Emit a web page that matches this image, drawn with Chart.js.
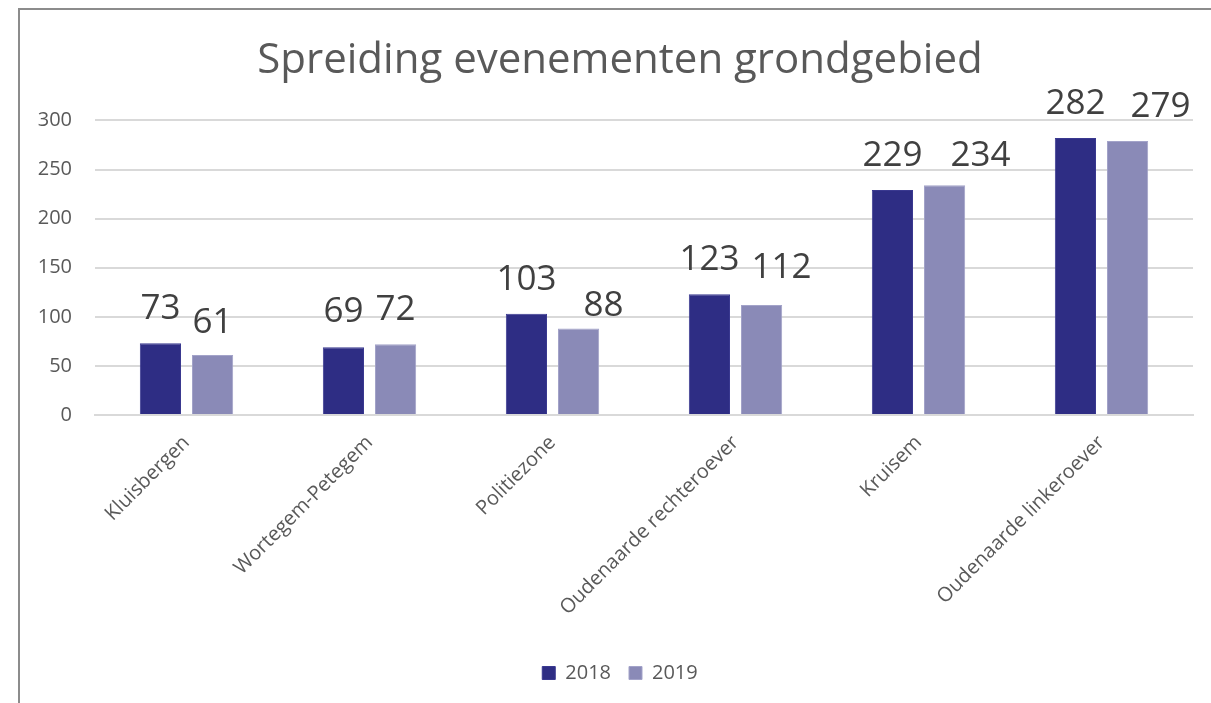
<!DOCTYPE html>
<html>
<head>
<meta charset="utf-8">
<title>Spreiding evenementen grondgebied</title>
<script src="https://cdn.jsdelivr.net/npm/chart.js@4/dist/chart.umd.min.js"></script>
<style>
    html, body { margin: 0; padding: 0; background: #fff; overflow: hidden; }
    #wrap { position: relative; width: 1211px; height: 703px; overflow: hidden; }
    #frame {
        position: absolute; left: 18px; top: 8px; right: -10px; bottom: -10px;
        border-left: 2px solid #8c8c8c; border-top: 2px solid #8c8c8c;
        pointer-events: none;
    }
</style>
</head>
<body>
<div id="wrap">
    <canvas id="spreiding-chart" width="1220" height="703"></canvas>
    <div id="frame"></div>
</div>
<script>
// Evenementen per deelgebied
const categories = ['Kluisbergen', 'Wortegem-Petegem', 'Politiezone', 'Oudenaarde rechteroever', 'Kruisem', 'Oudenaarde linkeroever'];
const values2018 = [73, 69, 103, 123, 229, 282];
const values2019 = [61, 72, 88, 112, 234, 279];
const yTicks = [0, 50, 100, 150, 200, 250, 300];

// Handmatig verschoven waardelabels (dx, dy in px) per reeks
const labelNudge2018 = [[0, 0], [0, -1], [0, 0], [0, 0], [0, 0], [0, 0]];
const labelNudge2019 = [[0, 2], [0, 0], [25, 11], [20, -3], [36, 5], [33, 0]];

const colors = {
    dark: '#2e2d84',
    light: '#8a8ab7',
    text: '#595959',
    label: '#404040',
    grid: '#d9d9d9'
};

const FONT = "'Open Sans', 'Noto Sans', sans-serif";

// Waardelabels boven de staven
const valueLabels = {
    id: 'valueLabels',
    afterDatasetsDraw(chart) {
        const ctx = chart.ctx;
        ctx.save();
        ctx.font = `35px ${FONT}`;
        ctx.fillStyle = colors.label;
        ctx.textAlign = 'center';
        ctx.textBaseline = 'alphabetic';
        chart.data.datasets.forEach((ds, di) => {
            const meta = chart.getDatasetMeta(di);
            meta.data.forEach((bar, i) => {
                const nudge = ds.nudge[i];
                ctx.fillText(String(ds.data[i]), bar.x + nudge[0], bar.y - 24 + nudge[1]);
            });
        });
        ctx.restore();
    }
};

new Chart(document.getElementById('spreiding-chart'), {
    type: 'bar',
    data: {
        labels: categories,
        datasets: [{
            label: '2018',
            data: values2018,
            nudge: labelNudge2018,
            backgroundColor: colors.dark,
            borderColor: '#3a3990',
            borderWidth: 1,
            categoryPercentage: 0.57,
            barPercentage: 0.79
        }, {
            label: '2019',
            data: values2019,
            nudge: labelNudge2019,
            backgroundColor: colors.light,
            borderColor: '#a3a3c9',
            borderWidth: 1,
            categoryPercentage: 0.57,
            barPercentage: 0.79
        }]
    },
    options: {
        responsive: false,
        animation: false,
        layout: {
            padding: { left: 20, right: 0, top: 0, bottom: 10 }
        },
        plugins: {
            title: {
                display: true,
                text: 'Spreiding evenementen grondgebied',
                color: colors.text,
                font: { family: FONT, size: 42, weight: 'normal' },
                padding: { top: 36, bottom: 34 }
            },
            legend: {
                display: true,
                position: 'bottom',
                labels: {
                    color: colors.text,
                    font: { family: FONT, size: 20 },
                    boxWidth: 13,
                    boxHeight: 13,
                    padding: 18
                }
            },
            tooltip: { enabled: false }
        },
        scales: {
            x: {
                grid: { display: false, drawTicks: false },
                border: { display: true, color: colors.grid, width: 2 },
                ticks: {
                    color: colors.text,
                    font: { family: FONT, size: 20 },
                    maxRotation: 45,
                    minRotation: 45,
                    padding: 16,
                    autoSkip: false
                },
                afterFit: (scale) => { scale.height = 230; }
            },
            y: {
                min: 0,
                max: 300,
                afterBuildTicks: (scale) => { scale.ticks = yTicks.map(v => ({ value: v })); },
                grid: { color: colors.grid, lineWidth: 2, drawTicks: false },
                border: { display: false },
                ticks: {
                    color: colors.text,
                    font: { family: FONT, size: 20 },
                    padding: 23
                },
                afterFit: (scale) => { scale.width = 75; }
            },
            // lege rechteras als marge rechts van het plotgebied
            yRight: {
                position: 'right',
                min: 0,
                max: 300,
                grid: { display: false, drawTicks: false },
                border: { display: false },
                ticks: { display: false },
                afterFit: (scale) => { scale.width = 27; }
            }
        }
    },
    plugins: [valueLabels]
});
</script>
</body>
</html>
